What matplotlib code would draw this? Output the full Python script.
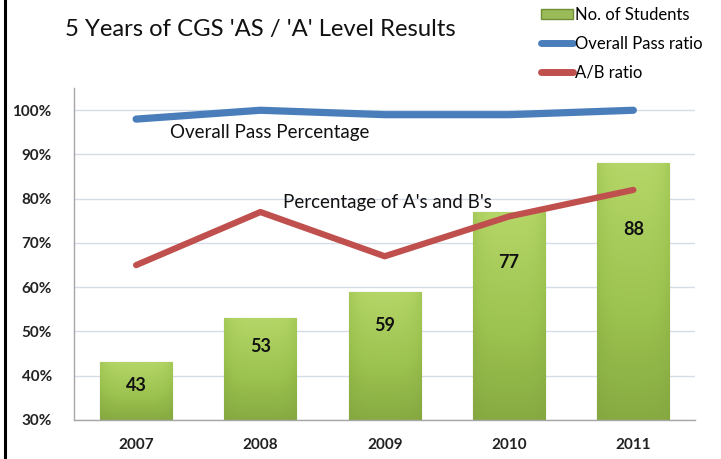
import matplotlib
matplotlib.use("Agg")
import matplotlib.pyplot as plt
import numpy as np
from matplotlib.lines import Line2D
from matplotlib.patches import Patch
from matplotlib.colors import LinearSegmentedColormap

years = ["2007", "2008", "2009", "2010", "2011"]
students = [43, 53, 59, 77, 88]
overall_pass = [98, 100, 99, 99, 100]
ab_ratio = [65, 77, 67, 76, 82]
yticks = [30, 40, 50, 60, 70, 80, 90, 100]
title = "5 Years of CGS 'AS / 'A' Level Results"
legend_labels = ["No. of Students", "Overall Pass ratio", "A/B ratio"]
label_offsets = [5.1, 6.5, 7.6, 11.3, 14.9]  # label drop below bar top (style)

FONT = ["Lato", "DejaVu Sans"]
plt.rcParams["font.family"] = FONT

fig = plt.figure(figsize=(7.21, 4.59), dpi=100)
ax = fig.add_axes([0.1026, 0.085, 0.862, 0.723])

x = np.arange(len(years))
ymin, ymax = 30, 105
ax.set_xlim(-0.5, len(years) - 0.5)
ax.set_ylim(ymin, ymax)

bars = ax.bar(x, [s - ymin for s in students], bottom=ymin, width=0.58,
              color="#9bbb59", edgecolor="#6f8f35", linewidth=0.8, zorder=2)

# gradient fill clipped to each bar
cmap = LinearSegmentedColormap.from_list("g", ["#7ea13c", "#9cc24f", "#b4d668"])
for b in bars:
    x0, y0 = b.get_x(), b.get_y()
    w, h = b.get_width(), b.get_height()
    grad = np.linspace(0.15, 1, 100).reshape(-1, 1)
    horiz = 1 - np.abs(np.linspace(-1, 1, 50)) ** 4 * 0.3
    img = grad * horiz
    im = ax.imshow(img, extent=[x0, x0 + w, y0, y0 + h], origin="lower",
                   cmap=cmap, aspect="auto", zorder=2.1, vmin=0, vmax=1)
    im.set_clip_path(b)

for xi, s, off in zip(x, students, label_offsets):
    ax.text(xi, s - off, str(s), ha="center", va="center", fontsize=13,
            fontweight="bold", color="#111111", zorder=3)

ax.plot(x, overall_pass, color="#4a7ebb", lw=5.2, solid_capstyle="round",
        solid_joinstyle="round", zorder=4)
ax.plot(x, ab_ratio, color="#c0504d", lw=4.5, solid_capstyle="round",
        solid_joinstyle="round", zorder=4)

ax.text(0.27, 94.9, "Overall Pass Percentage", fontsize=13.5, ha="left",
        va="center", color="#111111", zorder=5)
ax.text(1.18, 79.2, "Percentage of A's and B's", fontsize=13.5, ha="left",
        va="center", color="#111111", zorder=5)

ax.set_yticks(yticks)
ax.set_yticklabels([f"{t}%" for t in yticks], fontsize=11, fontweight="bold")
ax.set_xticks(x)
ax.set_xticklabels(years, fontsize=11, fontweight="bold")
ax.tick_params(axis="both", length=0, colors="#222222")
ax.tick_params(axis="y", pad=16)
ax.tick_params(axis="x", pad=13)
ax.grid(axis="y", color="#d5dce8", lw=1, zorder=0)
ax.set_axisbelow(True)
for s in ["top", "right"]:
    ax.spines[s].set_visible(False)
for s in ["left", "bottom"]:
    ax.spines[s].set_color("#a6a6a6")
    ax.spines[s].set_linewidth(1)

fig.text(0.09, 0.935, title, fontsize=17.2, ha="left", va="center",
         color="#111111")

handles = [Patch(facecolor="#9bbb59", edgecolor="#6f8f35"),
           Line2D([0], [0], color="#4a7ebb", lw=5, solid_capstyle="round"),
           Line2D([0], [0], color="#c0504d", lw=5, solid_capstyle="round")]
leg = fig.legend(handles, legend_labels, loc="upper left",
                 bbox_to_anchor=(0.73, 1.018), frameon=False, fontsize=12,
                 handlelength=1.9, handletextpad=0.1, labelspacing=0.78,
                 handleheight=0.55)

fig.add_artist(Line2D([0.007, 0.007], [0, 1], transform=fig.transFigure,
                      color="black", lw=2.2))

fig.savefig("out.png", dpi=100)
